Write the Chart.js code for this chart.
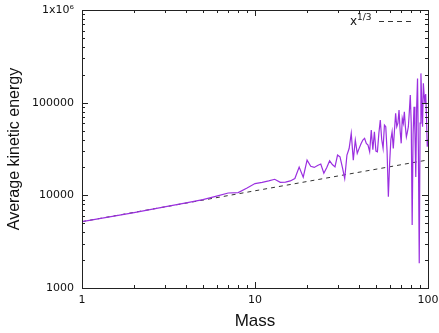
<!DOCTYPE html>
<html>
<head>
<meta charset="utf-8">
<script src="https://cdn.jsdelivr.net/npm/chart.js@4"></script>
<style>
  html, body { margin: 0; padding: 0; background: #fff; }
  #wrap { width: 439px; height: 333px; }
</style>
</head>
<body>
<div id="wrap"><canvas id="energyChart" width="439" height="333"></canvas></div>
<script>
// mass values (x) and the simulated average kinetic energy
const masses = [];
for (let m = 1; m <= 100; m++) masses.push(m);
const energy = [
    5200, 6500, 7500, 8300, 9000, 9800, 10600, 10700, 12000, 13400,
    13800, 14300, 14900, 13800, 13900, 14300, 15200, 20200, 15700, 24000,
    20600, 20000, 21000, 21800, 17300, 20000, 23600, 21500, 20300, 27200,
    26000, 20000, 15200, 27200, 32000, 46700, 24000, 39500, 28400, 32100,
    36000, 39500, 41200, 36400, 34900, 29500, 50600, 31000, 48500, 30000,
    29500, 46700, 64900, 40000, 32100, 57300, 55000, 30000, 9660, 22100,
    40000, 48500, 32100, 50000, 76700, 55000, 60000, 83200, 50000, 36400,
    67700, 60000, 79900, 55000, 42800, 48000, 55000, 80000, 120800, 60000,
    4790, 45000, 90400, 50000, 15800, 90000, 182700, 30000, 1850, 60000,
    207000, 100000, 55000, 161600, 120000, 98200, 124000, 70000, 33400, 40000
];
// reference power law x^(1/3), straight in log-log so its two ends are enough
const refMass = [1, 100];
const refEnergy = [5200, 24100];

const xTicks = [1, 10, 100];
const xTickLabels = ['1', '10', '100'];
const yTicks = [1000, 10000, 100000, 1000000];
const yTickLabels = ['1000', '10000', '100000', '1x10\u2076'];

const FONT = "'DejaVu Sans', sans-serif";
const TITLE_FONT = "'Liberation Sans', Arial, sans-serif";

// gnuplot-like frame with inward major/minor ticks on all four sides, plus the key
const framePlugin = {
    id: 'frame',
    afterDraw(chart) {
        const { ctx, chartArea: a, scales } = chart;
        const x = scales.x, y = scales.y;
        ctx.save();
        ctx.strokeStyle = '#222';
        ctx.lineWidth = 1;
        const tick = (px, vertical, len) => {
            ctx.beginPath();
            if (vertical) {
                ctx.moveTo(px, a.bottom); ctx.lineTo(px, a.bottom - len);
                ctx.moveTo(px, a.top); ctx.lineTo(px, a.top + len);
            } else {
                ctx.moveTo(a.left, px); ctx.lineTo(a.left + len, px);
                ctx.moveTo(a.right, px); ctx.lineTo(a.right - len, px);
            }
            ctx.stroke();
        };
        for (let d = 1; d < 100; d *= 10) {
            for (let k = 1; k <= 10; k++) {
                tick(Math.round(x.getPixelForValue(d * k)) + 0.5, true, k === 1 || k === 10 ? 6 : 3);
            }
        }
        for (let d = 1000; d < 1000000; d *= 10) {
            for (let k = 1; k <= 10; k++) {
                tick(Math.round(y.getPixelForValue(d * k)) + 0.5, false, k === 1 || k === 10 ? 6 : 3);
            }
        }
        ctx.strokeRect(Math.round(a.left) + 0.5, Math.round(a.top) + 0.5,
                       Math.round(a.right - a.left), Math.round(a.bottom - a.top));

        // key: x^{1/3} with a dashed sample
        ctx.fillStyle = '#111';
        ctx.textBaseline = 'alphabetic';
        ctx.font = '12px ' + FONT;
        ctx.textAlign = 'left';
        ctx.fillText('x', 350, 25);
        ctx.font = '9px ' + FONT;
        ctx.fillText('1/3', 357, 20);
        ctx.setLineDash([5, 4]);
        ctx.strokeStyle = '#333';
        ctx.beginPath();
        ctx.moveTo(379, 21.5); ctx.lineTo(411, 21.5);
        ctx.stroke();
        ctx.restore();
    }
};

new Chart(document.getElementById('energyChart'), {
    type: 'line',
    data: {
        datasets: [
            {
                label: 'data',
                data: masses.map((m, i) => ({ x: m, y: energy[i] })),
                borderColor: '#9b2fe0', borderWidth: 1.2, pointRadius: 0, tension: 0, fill: false
            },
            {
                label: 'x^{1/3}',
                data: refMass.map((m, i) => ({ x: m, y: refEnergy[i] })),
                borderColor: '#333', borderWidth: 1, borderDash: [4, 4], pointRadius: 0, fill: false
            }
        ]
    },
    options: {
        responsive: false,
        animation: false,
        layout: { padding: { left: 0, right: 11, top: 10, bottom: 0 } },
        plugins: { legend: { display: false }, tooltip: { enabled: false } },
        scales: {
            x: {
                type: 'logarithmic', min: 1, max: 100,
                afterBuildTicks: s => { s.ticks = xTicks.map(v => ({ value: v })); },
                afterFit: s => { s.height = 45; s.paddingLeft = 0; s.paddingRight = 0; },
                ticks: {
                    color: '#111', font: { family: FONT, size: 11 }, padding: 6, maxRotation: 0,
                    callback: v => xTickLabels[xTicks.indexOf(v)]
                },
                grid: { display: false, drawTicks: false },
                border: { display: false },
                title: { display: true, text: 'Mass', color: '#111', font: { family: TITLE_FONT, size: 17 },
                         padding: { top: 0, bottom: 1 } }
            },
            y: {
                type: 'logarithmic', min: 1000, max: 1000000,
                afterBuildTicks: s => { s.ticks = yTicks.map(v => ({ value: v })); },
                afterFit: s => { s.width = 82; s.paddingTop = 0; s.paddingBottom = 0; },
                ticks: {
                    color: '#111', font: { family: FONT, size: 11 }, padding: 8,
                    callback: v => yTickLabels[yTicks.indexOf(v)]
                },
                grid: { display: false, drawTicks: false },
                border: { display: false },
                title: { display: true, text: 'Average kinetic energy', color: '#111',
                         font: { family: TITLE_FONT, size: 16 }, padding: { top: 5, bottom: 0 } }
            }
        }
    },
    plugins: [framePlugin]
});
</script>
</body>
</html>
